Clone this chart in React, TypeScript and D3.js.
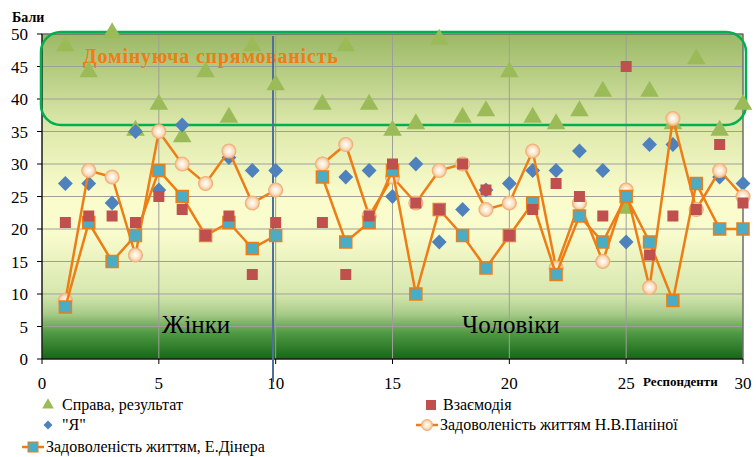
import React from "react";
import * as d3 from "d3";

// respondent numbers (11 is missing in the source)
const respondents = [1, 2, 3, 4, 5, 6, 7, 8, 9, 10, 11, 12, 13, 14, 15, 16, 17, 18, 19, 20, 21, 22, 23, 24, 25, 26, 27, 28, 29, 30];
const spravaVals = [48, 44, 50, 35, 39, 34, 44, 37, 48, 42, null, 39, 48, 39, 35, 36, 49, 37, 38, 44, 37, 36, 38, 41, 23, 41, 36, 46, 35, 39];
const yaVals = [27, 27, 24, 35, 26, 36, 27, 31, 29, 29, null, 30, 28, 29, 25, 30, 18, 23, 26, 27, 29, 29, 32, 29, 18, 33, 33, 23, 28, 27];
const vzaemVals = [21, 22, 22, 21, 25, 23, 19, 22, 13, 21, null, 21, 13, 22, 30, 24, 23, 30, 26, 19, 23, 27, 25, 22, 45, 16, 22, 23, 33, 24];
const paninaVals = [9, 29, 28, 16, 35, 30, 27, 32, 24, 26, null, 30, 33, 22, 28, 24, 29, 30, 23, 24, 32, 14, 24, 15, 26, 11, 37, 23, 29, 25];
const dienerVals = [8, 21, 15, 19, 29, 25, 19, 21, 17, 19, null, 28, 18, 21, 29, 10, 23, 19, 14, 19, 24, 13, 22, 18, 25, 18, 9, 27, 20, 20];
const yTicks = [0, 5, 10, 15, 20, 25, 30, 35, 40, 45, 50];
const xTicks = [0, 5, 10, 15, 20, 25, 30];

const FONT = "Liberation Serif";
const ORANGE = "#ed7d14";

const left = 42, right = 743, top = 34, bottom = 359;
const x = d3.scaleLinear().domain([0, 30]).range([left, right]);
const y = d3.scaleLinear().domain([0, 50]).range([bottom, top]);

type P = { r: number; v: number | null };
const series = (vals: (number | null)[]): P[] => respondents.map((r, i) => ({ r, v: vals[i] }));
const pts = (vals: (number | null)[]) => series(vals).filter((d) => d.v !== null) as { r: number; v: number }[];
const line = d3.line<P>().defined((d) => d.v !== null).x((d) => x(d.r)).y((d) => y(d.v as number));

const tri = d3.symbol().type(d3.symbolTriangle).size(150)() as string;
const sq = d3.symbol().type(d3.symbolSquare).size(110)() as string;
const triSmall = d3.symbol().type(d3.symbolTriangle).size(60)() as string;
const sqSmall = d3.symbol().type(d3.symbolSquare).size(40)() as string;

const bgStops: [number, string][] = [
  [0, "#9bb966"],
  [0.28, "#dce8aa"],
  [0.5, "#fafccc"],
  [0.62, "#f8fbcc"],
  [0.8, "#d6e7ae"],
  [0.86, "#a9cc8a"],
  [0.92, "#4f9a43"],
  [1, "#176617"],
];

const T = ({ size = 16, ...rest }: any) => (
  <text {...rest} fontSize={size} style={{ fontFamily: FONT }} />
);

export default function App() {
  return (
    <svg width={756} height={457} style={{ position: "absolute", left: 0, top: 0, fontFamily: FONT }}>
      <defs>
        <linearGradient id="bg" x1={0} y1={0} x2={0} y2={1}>
          {bgStops.map(([o, c]) => <stop key={o} offset={o} stopColor={c} />)}
        </linearGradient>
        <radialGradient id="circ" cx={0.5} cy={0.5} r={0.6}>
          <stop offset={0} stopColor="#ffffff" />
          <stop offset={0.5} stopColor="#fbe3c6" />
          <stop offset={1} stopColor="#f0a860" />
        </radialGradient>
      </defs>

      <rect x={left} y={top} width={right - left} height={bottom - top} fill="url(#bg)" />
      {yTicks.slice(1).map((t) => (
        <line key={"gy" + t} x1={left} x2={right} y1={y(t)} y2={y(t)} stroke="#9f9f9a" />
      ))}
      {xTicks.slice(1).map((t) => (
        <line key={"gx" + t} y1={top} y2={bottom} x1={x(t)} x2={x(t)} stroke="#9f9f9a" />
      ))}
      <rect x={left} y={top} width={right - left} height={bottom - top} fill="none" stroke="#555" />

      {/* axes */}
      <line x1={left} x2={left} y1={top} y2={bottom} stroke="#000" />
      <line x1={left} x2={right} y1={bottom} y2={bottom} stroke="#000" />
      {yTicks.map((t) => (
        <g key={"ty" + t}>
          <line x1={left - 5} x2={left} y1={y(t)} y2={y(t)} stroke="#000" />
          <T x={left - 14} y={y(t) + 6} textAnchor="end" size={17}>{t}</T>
        </g>
      ))}
      {xTicks.map((t) => (
        <g key={"tx" + t}>
          <line x1={x(t)} x2={x(t)} y1={bottom} y2={bottom + 5} stroke="#000" />
          <T x={x(t)} y={bottom + 30} textAnchor="middle" size={17}>{t}</T>
        </g>
      ))}
      <T x={12} y={22} size={14} fontWeight="bold">Бали</T>
      <T x={643} y={386} size={13} fontWeight="bold">Респонденти</T>

      {/* dominant zone */}
      <rect x={41} y={32} width={705} height={93} rx={20} fill="none" stroke="#00b050" strokeWidth={2.5} />
      <T x={83} y={63} size={20} fontWeight="bold" fill={ORANGE} letterSpacing={0.8}>Домінуюча спрямованість</T>

      <T x={162} y={333} size={25}>Жінки</T>
      <T x={462} y={333} size={25}>Чоловіки</T>

      <line x1={273} x2={273} y1={36} y2={382} stroke="#4f6f9c" strokeWidth={2} />

      {/* Справа, результат */}
      {pts(spravaVals).map((d) => (
        <path key={"s" + d.r} d={tri} transform={`translate(${x(d.r)},${y(d.v) - 1})`} fill="#9bbb59" />
      ))}
      {/* "Я" */}
      {pts(yaVals).map((d) => (
        <path key={"y" + d.r} d={sq} transform={`translate(${x(d.r)},${y(d.v)}) rotate(45)`} fill="#4f81bd" />
      ))}

      {/* Паніна */}
      <path d={line(series(paninaVals)) as string} fill="none" stroke={ORANGE} strokeWidth={2.5} />
      {pts(paninaVals).map((d) => (
        <circle key={"p" + d.r} cx={x(d.r)} cy={y(d.v)} r={7} fill="url(#circ)" stroke="#f0b080" strokeWidth={1.2} />
      ))}

      {/* Дінер */}
      <path d={line(series(dienerVals)) as string} fill="none" stroke={ORANGE} strokeWidth={2.5} />
      {pts(dienerVals).map((d) => (
        <rect key={"d" + d.r} x={x(d.r) - 6} y={y(d.v) - 6} width={12} height={12} fill="#4bacc6" stroke={ORANGE} strokeWidth={1.5} />
      ))}

      {/* Взаємодія */}
      {pts(vzaemVals).map((d) => (
        <rect key={"v" + d.r} x={x(d.r) - 5.5} y={y(d.v) - 5.5} width={11} height={11} fill="#c0504d" />
      ))}

      {/* legend */}
      <path d={triSmall} transform="translate(48,405)" fill="#9bbb59" />
      <T x={62} y={410}>Справа, результат</T>
      <rect x={426} y={400} width={10} height={10} fill="#c0504d" />
      <T x={443} y={410}>Взаємодія</T>
      <path d={sqSmall} transform="translate(48,425) rotate(45)" fill="#4f81bd" />
      <T x={62} y={430}>"Я"</T>
      <line x1={416} x2={438} y1={425} y2={425} stroke={ORANGE} strokeWidth={2.5} />
      <circle cx={427} cy={425} r={5.5} fill="url(#circ)" stroke="#f0b080" />
      <T x={440} y={430}>Задоволеність життям Н.В.Паніної</T>
      <line x1={22} x2={44} y1={447} y2={447} stroke={ORANGE} strokeWidth={2.5} />
      <rect x={28} y={442} width={10} height={10} fill="#4bacc6" stroke={ORANGE} />
      <T x={46} y={452}>Задоволеність життям, Е.Дінера</T>
    </svg>
  );
}
